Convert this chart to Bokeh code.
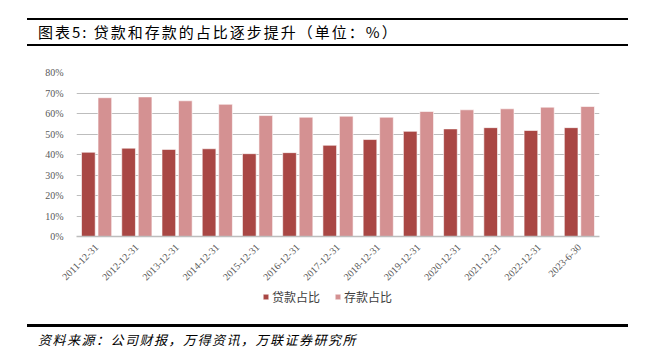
from bokeh.plotting import figure
from bokeh.models import (ColumnDataSource, FactorRange, Range1d, Legend, LegendItem,
                          PrintfTickFormatter, Div, FixedTicker)
from bokeh.transform import dodge
from bokeh.layouts import column
from bokeh.embed import file_html
from bokeh.resources import INLINE

categories = ["2011-12-31", "2012-12-31", "2013-12-31", "2014-12-31", "2015-12-31",
              "2016-12-31", "2017-12-31", "2018-12-31", "2019-12-31", "2020-12-31",
              "2021-12-31", "2022-12-31", "2023-6-30"]
loan_share = [41.1, 43.1, 42.5, 42.8, 40.4, 40.9, 44.5, 47.3, 51.3, 52.5, 53.1, 51.7, 53.1]
deposit_share = [67.7, 68.1, 66.2, 64.5, 59.0, 58.2, 58.7, 58.2, 61.0, 61.8, 62.3, 63.1, 63.4]
y_ticks = [0, 10, 20, 30, 40, 50, 60, 70, 80]

title_text = "图表5: 贷款和存款的占比逐步提升（单位：%）"
source_text = "资料来源：公司财报，万得资讯，万联证券研究所"
series_names = ["贷款占比", "存款占比"]

DARK = "#A94744"
LIGHT = "#D49192"
CJK = "Noto Sans CJK SC"
SERIF = "Liberation Serif"

src = ColumnDataSource(dict(cat=categories, loan=loan_share, dep=deposit_share))

# ---- main chart ----
p = figure(x_range=FactorRange(*categories), y_range=Range1d(0, 80),
           width=643, height=240, margin=(0, 0, 0, 0),
           min_border_left=76, min_border_right=44, min_border_top=26, min_border_bottom=50,
           output_backend="svg", toolbar_location=None, background_fill_color="white",
           border_fill_color="white")
p.outline_line_color = None

r1 = p.vbar(x=dodge("cat", -0.205, range=p.x_range), top="loan", width=0.34, source=src,
            fill_color=DARK, line_color="white", line_alpha=0.6, line_width=1)
r2 = p.vbar(x=dodge("cat", 0.205, range=p.x_range), top="dep", width=0.34, source=src,
            fill_color=LIGHT, line_color="white", line_alpha=0.6, line_width=1)

p.xgrid.grid_line_color = None
p.ygrid.grid_line_color = "#BDBDBD"
p.ygrid.grid_line_width = 1.2
p.yaxis.ticker = FixedTicker(ticks=y_ticks)
p.yaxis.formatter = PrintfTickFormatter(format="%d%%")
p.yaxis.axis_line_color = None
p.yaxis.major_tick_line_color = None
p.yaxis.minor_tick_line_color = None
p.yaxis.major_label_standoff = 7
p.yaxis.major_label_text_font = SERIF
p.yaxis.major_label_text_font_size = "10px"
p.yaxis.major_label_text_color = "#595959"

p.xaxis.axis_line_color = "#BDBDBD"
p.xaxis.axis_line_width = 1.5
p.xaxis.major_tick_line_color = None
p.xaxis.minor_tick_line_color = None
p.xaxis.major_label_orientation = 0.785
p.xaxis.major_label_standoff = 3
p.xaxis.major_label_text_font = SERIF
p.xaxis.major_label_text_font_size = "10px"
p.xaxis.major_label_text_color = "#595959"

# ---- legend strip (separate canvas so the legend is not clipped) ----
lg = figure(x_range=Range1d(0, 1), y_range=Range1d(0, 1), width=643, height=24,
            margin=(0, 0, 0, 0), min_border=0, output_backend="svg",
            toolbar_location=None, background_fill_color="white", border_fill_color="white")
lg.outline_line_color = None
lg.axis.visible = False
lg.grid.visible = False
hidden = ColumnDataSource(dict(x=[0.5], v=[-1.0]))
l1 = lg.vbar(x="x", top="v", bottom=-2, width=0.1, source=hidden, fill_color=DARK,
             line_color="white", line_alpha=0.6)
l2 = lg.vbar(x="x", top="v", bottom=-2, width=0.1, source=hidden, fill_color=LIGHT,
             line_color="white", line_alpha=0.6)
legend = Legend(items=[LegendItem(label=series_names[0], renderers=[l1]),
                       LegendItem(label=series_names[1], renderers=[l2])],
                orientation="horizontal", location=(186, 5),
                glyph_width=7, glyph_height=7, label_standoff=3, spacing=14,
                label_text_font=CJK, label_text_font_size="12px",
                label_text_color="#404040", border_line_color=None,
                background_fill_alpha=0, margin=0, padding=2)
lg.add_layout(legend, "center")

header = Div(width=643, height=46, margin=(0, 0, 0, 0), text=(
    '<div style="box-sizing:border-box;padding:18px 0 0 27px;height:46px;">'
    '<div style="box-sizing:border-box;width:601px;height:28px;padding-left:11px;'
    'border-top:2px solid #000;border-bottom:2px solid #000;'
    'font-family:\'Noto Sans CJK SC\';font-size:15px;letter-spacing:2px;'
    'line-height:24px;color:#000;white-space:nowrap;">' + title_text + '</div></div>'))

footer = Div(width=643, height=46, margin=(0, 0, 0, 0), text=(
    '<div style="box-sizing:border-box;padding:14px 0 0 27px;height:46px;">'
    '<div style="box-sizing:border-box;width:601px;height:30px;padding-left:11px;'
    'border-top:3px solid #000;'
    'font-family:\'Noto Sans CJK SC\';font-size:13px;font-style:italic;letter-spacing:1.5px;'
    'line-height:25px;color:#000;white-space:nowrap;">' + source_text + '</div></div>'))

layout = column(header, p, lg, footer, spacing=0)
open("out.html", "w").write(file_html(layout, INLINE))
